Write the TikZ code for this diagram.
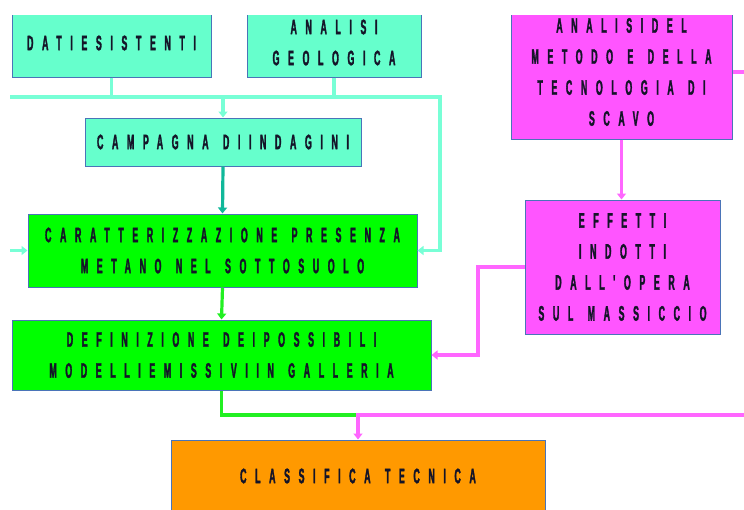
\documentclass[tikz,border=0pt]{standalone}
\usepackage{fontspec}
\usepackage{xcolor}
\usepackage{tikz}
\usetikzlibrary{arrows.meta, shapes}

\newfontfamily\boxfont{Liberation Sans Bold}[FakeStretch=0.42, LetterSpace=41, FakeBold=1.5, WordSpace=1.3]

\definecolor{aquafill}{HTML}{66FFCC}
\definecolor{aqualine}{HTML}{78FFD6}
\definecolor{tealline}{HTML}{10B89A}
\definecolor{limefill}{HTML}{00FF00}
\definecolor{limeline}{HTML}{22F022}
\definecolor{pinkfill}{HTML}{FF55FF}
\definecolor{pinkline}{HTML}{FF66FF}
\definecolor{orangefill}{HTML}{FF9900}
\definecolor{boxedge}{HTML}{4A74B8}
\definecolor{boxtext}{HTML}{141428}

\begin{document}
\begin{tikzpicture}[x=1pt, y=-1pt,
    block/.style={draw=boxedge, line width=1pt, text=boxtext, align=center, inner sep=0pt,
        font=\boxfont\fontsize{21}{31}\selectfont},
    aquablock/.style={block, fill=aquafill},
    limeblock/.style={block, fill=limefill},
    pinkblock/.style={block, fill=pinkfill},
    orangeblock/.style={block, fill=orangefill},
    link/.style={line width=3.2pt},
    tip/.style={-{Triangle[length=6pt, width=9pt]}}]

    \useasboundingbox (0,0) rectangle (744,509);
    \clip (0,15) rectangle (744,509);

    \node[aquablock, minimum width=199pt, minimum height=68pt] (dati) at (111.5,43) {DATIESISTENTI};
    \node[aquablock, minimum width=174pt, minimum height=69pt] (geo) at (334,42.5) {ANALISI\\GEOLOGICA};
    \node[aquablock, minimum width=276pt, minimum height=48pt] (campagna) at (223,142) {CAMPAGNA DIINDAGINI};
    \node[limeblock, minimum width=389pt, minimum height=73pt] (metano) at (222.5,250.5) {CARATTERIZZAZIONE PRESENZA\\METANO NEL SOTTOSUOLO};
    \node[limeblock, minimum width=419pt, minimum height=70pt] (modelli) at (221.5,355) {DEFINIZIONE DEIPOSSIBILI\\MODELLIEMISSIVIIN GALLERIA};
    \node[pinkblock, minimum width=221pt, minimum height=134pt] (scavo) at (621.5,72) {ANALISIDEL\\METODO E DELLA\\TECNOLOGIA DI\\SCAVO};
    \node[pinkblock, minimum width=195pt, minimum height=134pt] (effetti) at (622.5,267) {EFFETTI\\INDOTTI\\DALL'OPERA\\SUL MASSICCIO};
    \node[orangeblock, minimum width=374pt, minimum height=72pt] (classifica) at (358,476) {CLASSIFICA TECNICA};

    \coordinate (busL) at (10,97);
    \coordinate (busR) at (440,97);
    \coordinate (inL) at (10,250.5);
    \coordinate (bend) at (478,0);
    \coordinate (join) at (358,415);
    \coordinate (edgeR) at (750,0);

    \draw[link, aqualine] (dati.south) -- (dati.south |- busL);
    \draw[link, aqualine] (geo.south) -- (geo.south |- busL);
    \draw[link, aqualine, tip] (busL) -- (busR) |- (metano.east);
    \draw[link, aqualine, tip] (campagna.north |- busL) -- (campagna.north);
    \draw[link, aqualine, tip] (inL) -- (metano.west);
    \draw[link, tealline, tip] (campagna.south) -- (metano.north);
    \draw[link, limeline, tip] (metano.south) -- (modelli.north);
    \draw[link, limeline] (modelli.south) |- (join);
    \draw[link, pinkline] (scavo.east) -- (scavo.east -| edgeR);
    \draw[link, pinkline, tip] (scavo.south) -- (scavo.south |- effetti.north);
    \draw[link, pinkline, tip] (effetti.west) -- (effetti.west -| bend) |- (modelli.east);
    \draw[link, pinkline, tip] (edgeR |- join) -- (join) -- (classifica.north);
\end{tikzpicture}
\end{document}
